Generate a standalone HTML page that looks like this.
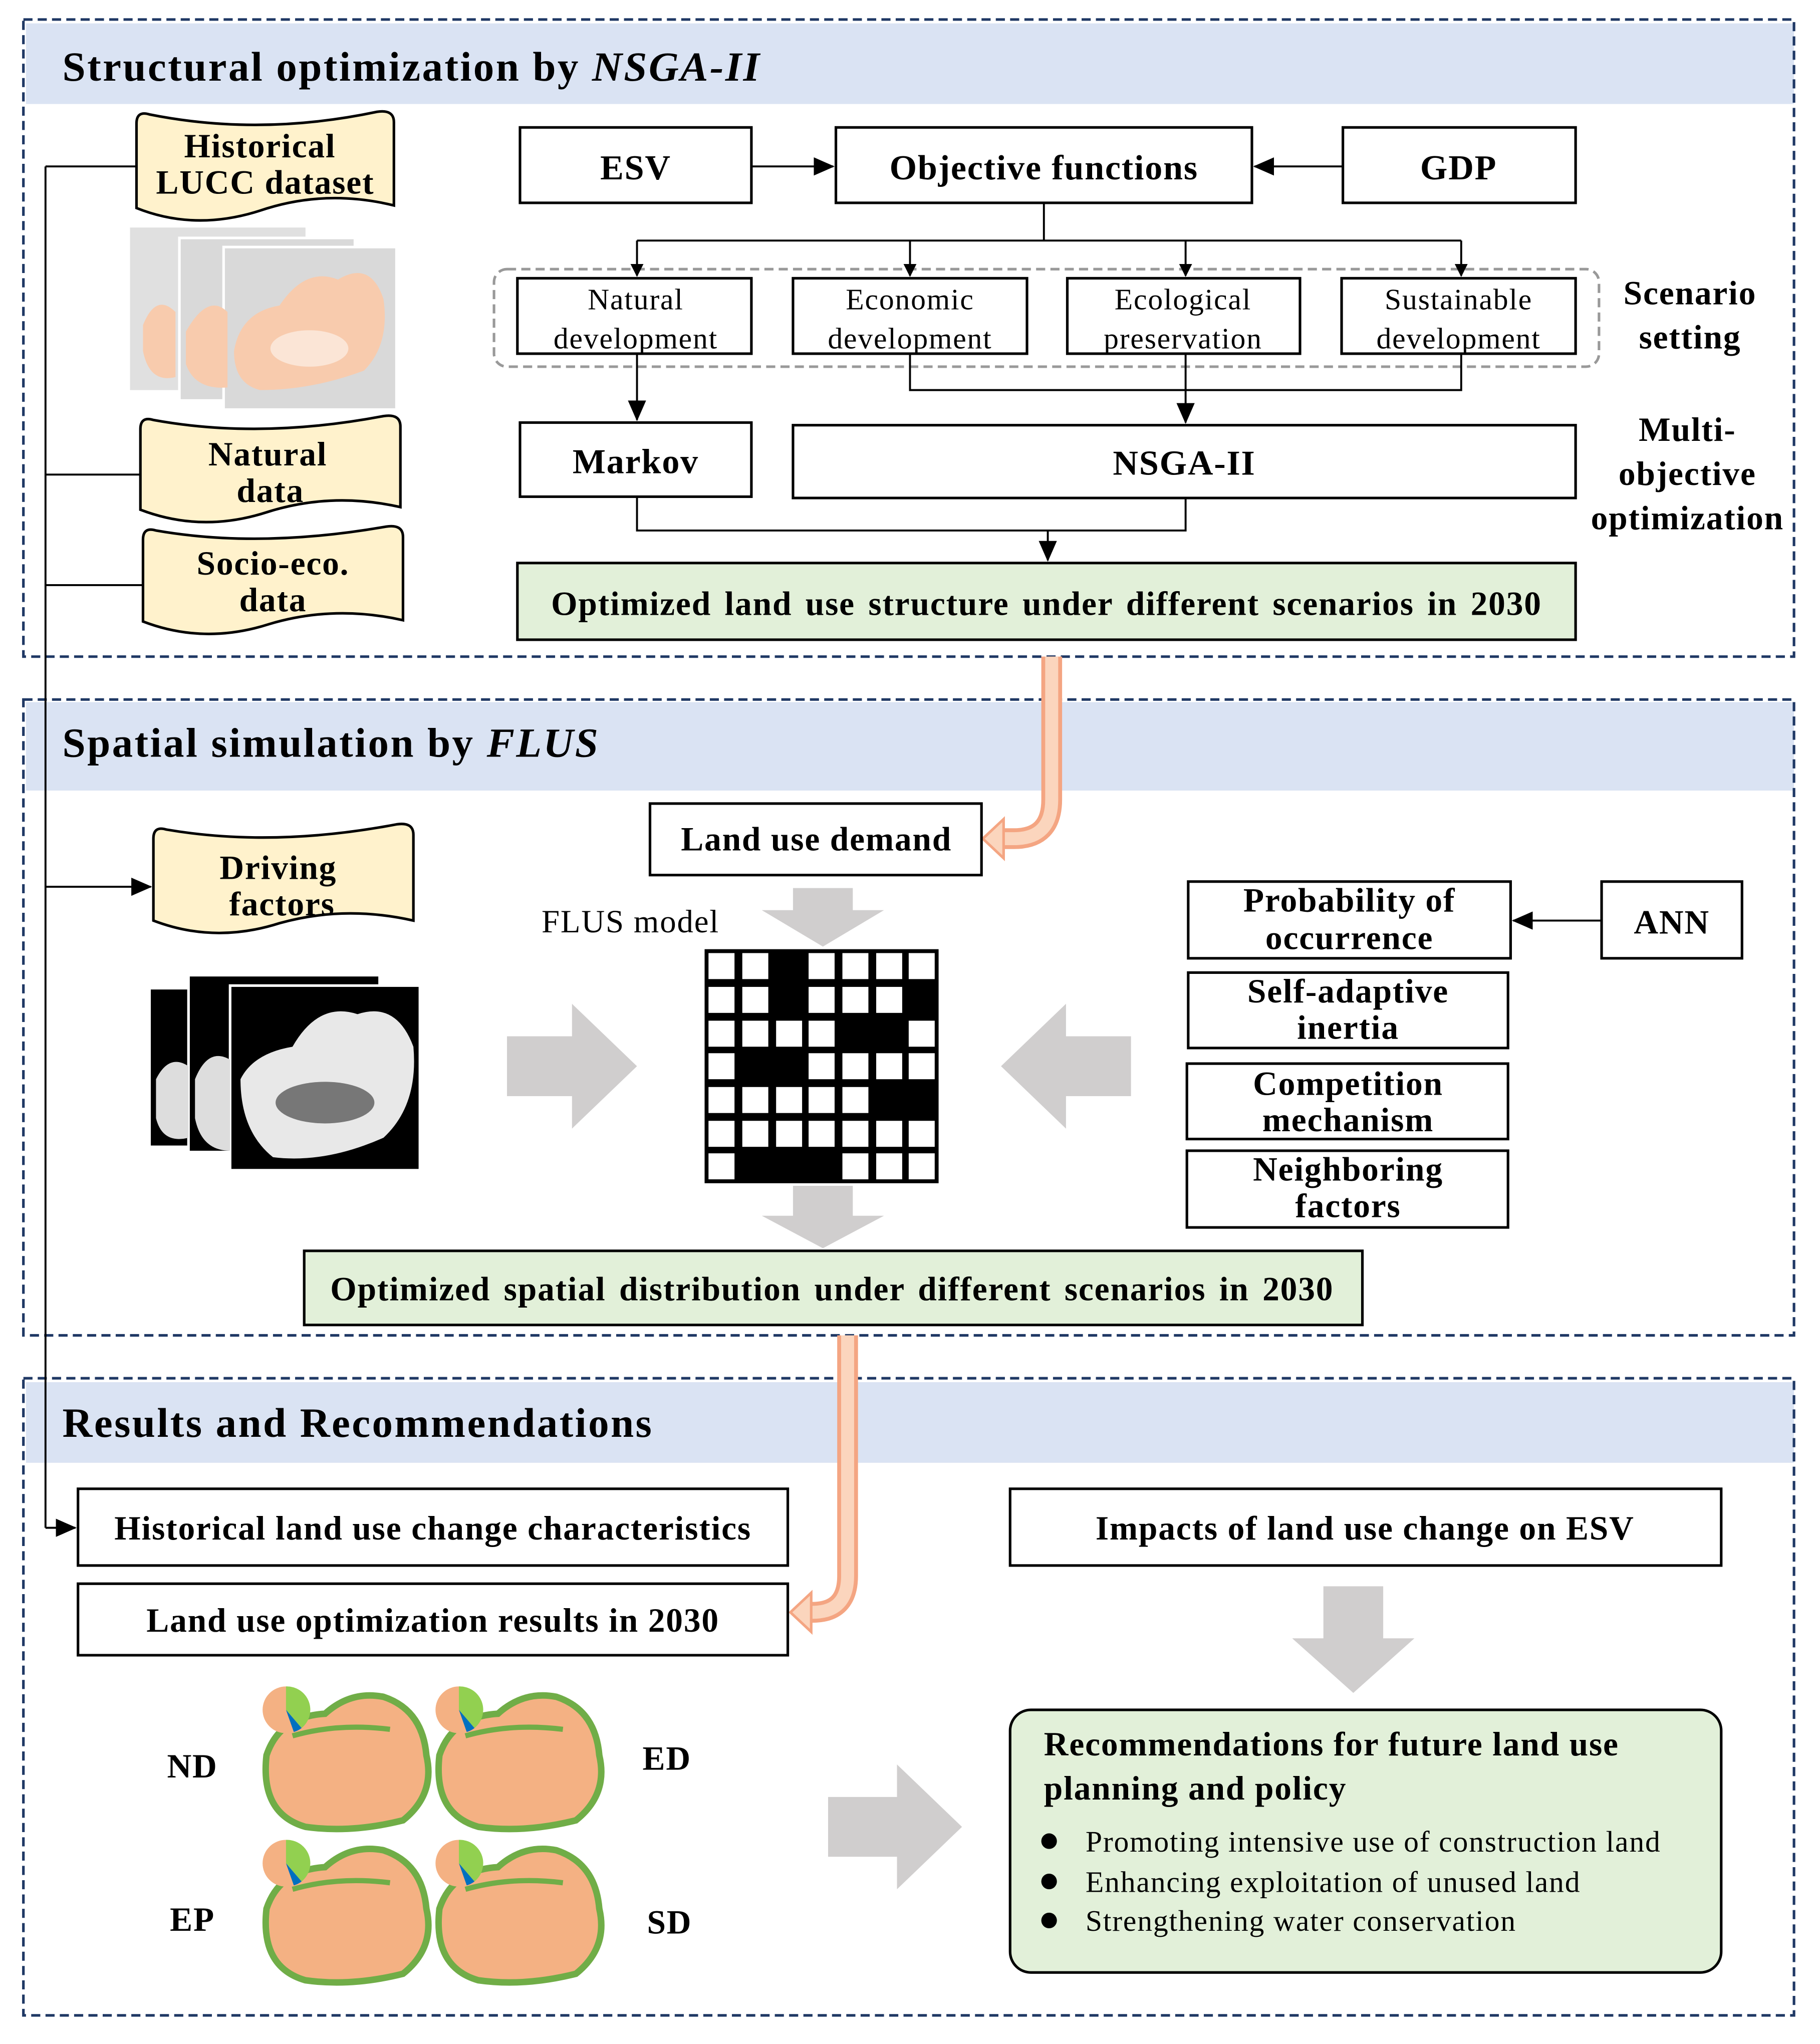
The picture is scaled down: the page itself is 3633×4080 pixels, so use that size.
<!DOCTYPE html>
<html><head><meta charset="utf-8"><style>
html,body{margin:0;padding:0;background:#fff}
svg{display:block}
text{font-family:"Liberation Serif",serif;letter-spacing:0.7px}
.b{font-weight:bold}
.t{letter-spacing:1.3px}
</style></head><body>
<svg width="3633" height="4080" viewBox="0 0 1400 1572" preserveAspectRatio="none" xmlns="http://www.w3.org/2000/svg">
<defs>
<marker id="ah" markerWidth="10" markerHeight="10" refX="9" refY="5" orient="auto" markerUnits="userSpaceOnUse"><path d="M0,0 L10,5 L0,10 Z" fill="#000"/></marker>
<marker id="ahL" markerWidth="16" markerHeight="14" refX="15" refY="7" orient="auto" markerUnits="userSpaceOnUse"><path d="M0,0 L16,7 L0,14 Z" fill="#000"/></marker>
</defs>
<rect width="1400" height="1572" fill="#fff"/>

<rect x="20" y="18" width="1360" height="62" fill="#dae3f3"/>
<rect x="20" y="540" width="1360" height="68" fill="#dae3f3"/>
<rect x="20" y="1063" width="1360" height="62" fill="#dae3f3"/>
<g fill="none" stroke="#1f3864" stroke-width="2" stroke-dasharray="7,4">
<rect x="18" y="15" width="1362" height="490"/>
<rect x="18" y="538" width="1362" height="489"/>
<rect x="18" y="1060" width="1362" height="490"/>
</g>
<text x="48" y="62" font-size="32" class="b t">Structural optimization  by <tspan font-style="italic">NSGA-II</tspan></text>
<text x="48" y="582" font-size="32" class="b t">Spatial simulation by <tspan font-style="italic">FLUS</tspan></text>
<text x="48" y="1105" font-size="32" class="b t">Results and Recommendations</text>

<g stroke="#000" stroke-width="1.5" fill="none">
<path d="M35,128 L35,1175"/>
<path d="M35,128 L105,128"/><path d="M35,365 L108,365"/><path d="M35,450 L110,450"/>
<path d="M35,682 L116,682" marker-end="url(#ahL)"/>
<path d="M35,1175 L58,1175" marker-end="url(#ahL)"/>
</g>

<g fill="#fff2cc" stroke="#000" stroke-width="2">
<path d="M105,95 Q105,85 115,88 Q200,105 290,86 Q303,84 303,94 L303,158 Q250,145 200,162 Q150,178 105,160 Z"/>
<path d="M108,330 Q108,320 118,323 Q200,338 295,320 Q308,318 308,328 L308,390 Q255,378 205,394 Q155,410 108,392 Z"/>
<path d="M110,415 Q110,405 120,408 Q200,422 297,405 Q310,403 310,413 L310,477 Q257,465 207,480 Q157,496 110,478 Z"/>
<path d="M118,645 Q118,635 128,638 Q210,652 305,634 Q318,632 318,642 L318,708 Q265,696 215,710 Q165,726 118,708 Z"/>
</g>
<g font-size="26" class="b" text-anchor="middle">
<text x="200" y="121">Historical</text><text x="204" y="149">LUCC dataset</text>
<text x="206" y="358">Natural</text><text x="208" y="386">data</text>
<text x="210" y="442">Socio-eco.</text><text x="210" y="470">data</text>
<text x="214" y="676">Driving</text><text x="217" y="704">factors</text>
</g>

<g>
<rect x="100" y="175" width="135" height="125" fill="#e0e0e0"/>
<rect x="138" y="183" width="135" height="125" fill="#d9d9d9" stroke="#fff" stroke-width="2"/>
<rect x="172" y="190" width="133" height="125" fill="#d9d9d9" stroke="#fff" stroke-width="2"/>
<path d="M110,250 Q120,225 135,240 L135,290 Q115,295 110,270Z" fill="#f8cbad"/>
<path d="M143,255 Q160,225 175,240 L175,298 Q150,300 143,280Z" fill="#f8cbad"/>
<path d="M180,270 Q185,240 215,235 Q235,205 260,215 Q285,200 295,230 Q300,265 280,285 Q240,300 200,300 Q180,295 180,270Z" fill="#f8cbad"/>
<ellipse cx="238" cy="268" rx="30" ry="14" fill="#fbe5d6"/>
</g>

<g>
<rect x="115" y="760" width="145" height="122" fill="#000" stroke="#fff" stroke-width="2"/>
<rect x="145" y="750" width="147" height="136" fill="#000" stroke="#fff" stroke-width="2"/>
<rect x="177" y="758" width="146" height="142" fill="#000" stroke="#fff" stroke-width="2"/>
<path d="M120,830 Q130,810 145,820 L145,875 Q125,880 120,860Z" fill="#ddd"/>
<path d="M150,830 Q160,805 177,815 L177,885 Q155,885 150,860Z" fill="#ddd"/>
<path d="M185,830 Q195,810 225,805 Q245,770 275,780 Q305,770 318,805 Q322,850 295,875 Q250,895 210,890 Q185,870 185,830Z" fill="#e8e8e8"/>
<ellipse cx="250" cy="848" rx="38" ry="16" fill="#777"/>
</g>

<g fill="#fff" stroke="#000" stroke-width="2">
<rect x="400" y="98" width="178" height="58"/>
<rect x="643" y="98" width="320" height="58"/>
<rect x="1033" y="98" width="179" height="58"/>
<rect x="398" y="214" width="180" height="58"/>
<rect x="610" y="214" width="180" height="58"/>
<rect x="821" y="214" width="179" height="58"/>
<rect x="1032" y="214" width="180" height="58"/>
<rect x="400" y="325" width="178" height="57"/>
<rect x="610" y="327" width="602" height="56"/>
</g>
<rect x="380" y="207" width="850" height="75" rx="10" fill="none" stroke="#999" stroke-width="2" stroke-dasharray="7,4"/>
<rect x="398" y="433" width="814" height="59" fill="#e2f0d9" stroke="#000" stroke-width="2"/>
<g stroke="#000" stroke-width="1.5" fill="none">
<path d="M578,128 L641,128" marker-end="url(#ahL)"/>
<path d="M1033,128 L965,128" marker-end="url(#ahL)"/>
<path d="M803,156 L803,185 M490,185 L1124,185"/>
<path d="M490,185 L490,212" marker-end="url(#ah)"/>
<path d="M700,185 L700,212" marker-end="url(#ah)"/>
<path d="M912,185 L912,212" marker-end="url(#ah)"/>
<path d="M1124,185 L1124,212" marker-end="url(#ah)"/>
<path d="M490,272 L490,323" marker-end="url(#ahL)"/>
<path d="M700,272 L700,300 L1124,300 L1124,272"/>
<path d="M912,272 L912,325" marker-end="url(#ahL)"/>
<path d="M490,382 L490,408 L912,408 L912,383"/>
<path d="M806,408 L806,431" marker-end="url(#ahL)"/>
</g>
<g text-anchor="middle">
<text x="489" y="138" font-size="27" class="b">ESV</text>
<text x="803" y="138" font-size="27" class="b">Objective functions</text>
<text x="1122" y="138" font-size="27" class="b">GDP</text>
<g font-size="23">
<text x="489" y="238">Natural</text><text x="489" y="268">development</text>
<text x="700" y="238">Economic</text><text x="700" y="268">development</text>
<text x="910" y="238">Ecological</text><text x="910" y="268">preservation</text>
<text x="1122" y="238">Sustainable</text><text x="1122" y="268">development</text>
</g>
<text x="489" y="364" font-size="27" class="b">Markov</text>
<text x="911" y="365" font-size="27" class="b">NSGA-II</text>
<text x="805" y="473" font-size="26" class="b" word-spacing="3">Optimized land use structure under different scenarios in 2030</text>
<g font-size="26" class="b">
<text x="1300" y="234">Scenario</text><text x="1300" y="268">setting</text>
<text x="1298" y="339">Multi-</text><text x="1298" y="373">objective</text><text x="1298" y="407">optimization</text>
</g>
</g>

<g fill="none" stroke-linejoin="round">
<path d="M809,505 L809,615 Q809,645 780,645 L765,645" stroke="#f4a582" stroke-width="16"/>
<path d="M809,505 L809,615 Q809,645 780,645 L765,645" stroke="#fbd5bd" stroke-width="10"/>
<path d="M652,1027 L652,1212 Q652,1240 625,1240 L622,1240" stroke="#f4a582" stroke-width="16"/>
<path d="M652,1027 L652,1212 Q652,1240 625,1240 L622,1240" stroke="#fbd5bd" stroke-width="10"/>
</g>
<path d="M756,645 L772,630 L772,660 Z" fill="#fbd5bd" stroke="#f4a582" stroke-width="2"/>
<path d="M608,1240 L624,1225 L624,1255 Z" fill="#fbd5bd" stroke="#f4a582" stroke-width="2"/>

<rect x="500" y="618" width="255" height="55" fill="#fff" stroke="#000" stroke-width="2"/>
<text x="628" y="654" font-size="26" class="b" text-anchor="middle">Land use demand</text>
<text x="485" y="717" font-size="25" text-anchor="middle">FLUS model</text>
<g fill="#d0cece">
<path d="M610,683 L656,683 L656,700 L680,700 L633,728 L586,700 L610,700 Z"/>
<path d="M610,912 L656,912 L656,935 L680,935 L633,960 L586,935 L610,935 Z"/>
<path d="M390,797 L440,797 L440,772 L490,820 L440,868 L440,843 L390,843 Z"/>
<path d="M870,797 L820,797 L820,772 L770,820 L820,868 L820,843 L870,843 Z"/>
<path d="M1018,1220 L1064,1220 L1064,1260 L1088,1260 L1041,1302 L994,1260 L1018,1260 Z"/>
<path d="M637,1382 L690,1382 L690,1357 L740,1405 L690,1453 L690,1428 L637,1428 Z"/>
</g>
<rect x="542" y="730" width="180" height="180" fill="#000"/>
<g fill="#fff">
<rect x="545" y="733" width="20" height="20"/><rect x="571" y="733" width="20" height="20"/><rect x="622" y="733" width="20" height="20"/><rect x="648" y="733" width="20" height="20"/><rect x="674" y="733" width="20" height="20"/><rect x="699" y="733" width="20" height="20"/>
<rect x="545" y="759" width="20" height="20"/><rect x="571" y="759" width="20" height="20"/><rect x="622" y="759" width="20" height="20"/><rect x="648" y="759" width="20" height="20"/><rect x="674" y="759" width="20" height="20"/>
<rect x="545" y="785" width="20" height="20"/><rect x="571" y="785" width="20" height="20"/><rect x="597" y="785" width="20" height="20"/><rect x="622" y="785" width="20" height="20"/><rect x="699" y="785" width="20" height="20"/>
<rect x="545" y="810" width="20" height="20"/><rect x="622" y="810" width="20" height="20"/><rect x="648" y="810" width="20" height="20"/><rect x="674" y="810" width="20" height="20"/><rect x="699" y="810" width="20" height="20"/>
<rect x="545" y="836" width="20" height="20"/><rect x="571" y="836" width="20" height="20"/><rect x="597" y="836" width="20" height="20"/><rect x="622" y="836" width="20" height="20"/><rect x="648" y="836" width="20" height="20"/>
<rect x="545" y="862" width="20" height="20"/><rect x="571" y="862" width="20" height="20"/><rect x="597" y="862" width="20" height="20"/><rect x="622" y="862" width="20" height="20"/><rect x="648" y="862" width="20" height="20"/><rect x="674" y="862" width="20" height="20"/><rect x="699" y="862" width="20" height="20"/>
<rect x="545" y="887" width="20" height="20"/><rect x="648" y="887" width="20" height="20"/><rect x="674" y="887" width="20" height="20"/><rect x="699" y="887" width="20" height="20"/>
</g>

<g fill="#fff" stroke="#000" stroke-width="2">
<rect x="914" y="678" width="248" height="59"/>
<rect x="1232" y="678" width="108" height="59"/>
<rect x="914" y="748" width="246" height="58"/>
<rect x="913" y="818" width="247" height="58"/>
<rect x="913" y="885" width="247" height="59"/>
</g>
<path d="M1232,708 L1164,708" stroke="#000" stroke-width="1.5" marker-end="url(#ahL)"/>
<g font-size="26" class="b" text-anchor="middle">
<text x="1038" y="701">Probability of</text><text x="1038" y="730">occurrence</text>
<text x="1286" y="718">ANN</text>
<text x="1037" y="771">Self-adaptive</text><text x="1037" y="799">inertia</text>
<text x="1037" y="842">Competition</text><text x="1037" y="870">mechanism</text>
<text x="1037" y="908">Neighboring</text><text x="1037" y="936">factors</text>
</g>
<rect x="234" y="962" width="814" height="57" fill="#e2f0d9" stroke="#000" stroke-width="2"/>
<text x="640" y="1000" font-size="26" class="b" text-anchor="middle" word-spacing="3">Optimized spatial distribution under different scenarios in 2030</text>

<g fill="#fff" stroke="#000" stroke-width="2">
<rect x="60" y="1145" width="546" height="59"/>
<rect x="60" y="1218" width="546" height="55"/>
<rect x="777" y="1145" width="547" height="59"/>
</g>
<g font-size="26" class="b" text-anchor="middle">
<text x="333" y="1184">Historical land use change characteristics</text>
<text x="333" y="1255">Land use optimization results in 2030</text>
<text x="1050" y="1184">Impacts of land use change on ESV</text>
</g>
<rect x="777" y="1315" width="547" height="202" rx="16" fill="#e2f0d9" stroke="#000" stroke-width="2"/>
<g font-size="26" class="b"><text x="803" y="1350">Recommendations for future land use</text><text x="803" y="1384">planning and policy</text></g>
<g font-size="23">
<circle cx="807" cy="1416" r="6"/><text x="835" y="1424">Promoting intensive use of construction land</text>
<circle cx="807" cy="1447" r="6"/><text x="835" y="1455">Enhancing exploitation of unused land</text>
<circle cx="807" cy="1477" r="6"/><text x="835" y="1485">Strengthening water conservation</text>
</g>

<g id="m">
<path d="M205,1350 Q215,1320 250,1318 Q270,1300 295,1305 Q325,1315 328,1350 Q335,1380 310,1400 Q270,1410 235,1405 Q200,1395 205,1350Z" fill="#f4b183" stroke="#70ad47" stroke-width="5"/>
<path d="M225,1335 Q260,1325 300,1330" stroke="#70ad47" stroke-width="4" fill="none"/>
<circle cx="220" cy="1315" r="18" fill="#f4b183"/>
<path d="M220,1315 L220,1297 A18,18 0 0 1 232,1329 Z" fill="#92d050"/>
<path d="M220,1315 L232,1329 A18,18 0 0 1 226,1332 Z" fill="#0070c0"/>
</g>
<use href="#m" x="133" y="0"/>
<use href="#m" x="0" y="118"/>
<use href="#m" x="133" y="118"/>
<g font-size="26" class="b" text-anchor="middle">
<text x="148" y="1367">ND</text><text x="513" y="1361">ED</text>
<text x="148" y="1485">EP</text><text x="515" y="1487">SD</text>
</g>
</svg>
</body></html>
